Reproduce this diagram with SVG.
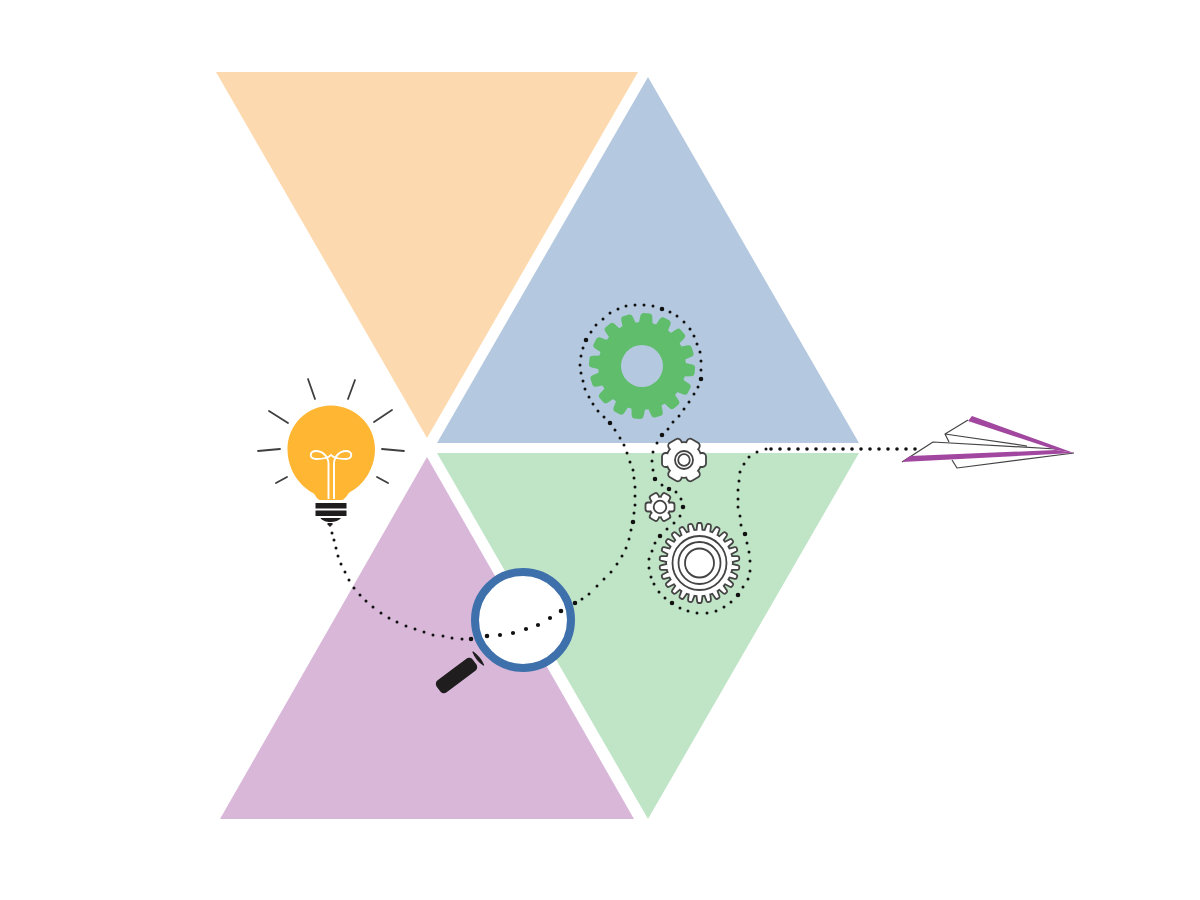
<svg xmlns="http://www.w3.org/2000/svg" width="1200" height="900" viewBox="0 0 1200 900">
<style>
.ray{stroke:#3f3f42;stroke-width:1.8;stroke-linecap:round;fill:none}
.dots{fill:none;stroke:#111;stroke-linecap:round}
.ring{fill:none;stroke:#444;stroke-width:1.8}
.tw{fill:#fff;stroke:#444;stroke-width:1.8}
.plane{fill:none;stroke:#444;stroke-width:1.2;stroke-linejoin:round}
.k{fill:#1f1d1e}
</style>
<defs>
<path id="tG" d="M-7 -41L-6 -50Q-5.500 -53 -3 -53H3Q5.500 -53 6 -50L7 -41Z" fill="#5fbd6c"/>
<path id="tL" d="M-3.200 -31L-2.300 -38.500Q-2 -40 -1 -40H1Q2 -40 2.300 -38.500L3.200 -31Z" class="tw"/>
<rect id="tM" x="-7" y="-22" width="14" height="8" rx="3.500" class="tw"/>
<rect id="tS" x="-4.500" y="-14.500" width="9" height="7" rx="2.500" class="tw"/>
</defs>
<rect width="1200" height="900" fill="#fff"/>
<g id="triangle-orange"><polygon points="216,72 638,72 427,438" fill="#fcd9ae"/></g>
<g id="triangle-blue"><polygon points="648,77 859,443 437,443" fill="#b4c9df"/></g>
<g id="triangle-green"><polygon points="437,453 859,453 648,819" fill="#c0e5c6"/></g>
<g id="triangle-purple"><polygon points="427,457 634,819 220,819" fill="#d8b7d9"/></g>

<g id="bulb">
<path class="ray" d="M308 379L315 399M355 380L348 399M269 411L288 423M392 410L374 422M258 451L280 449M382 449L404 451M276 483L287 477M377 477L388 483"/>
<path d="M313 493C298 485 287.500 468 287.500 449C287.500 425 307 405.500 331 405.500C355 405.500 375 425 375 449C375 468 364 485 350 492C347 494 346 499 342 500H320C316 499 316 495 313 493Z" fill="#ffb633"/>
<path d="M328.500 499V464C328.500 456 322 451 316 451C309 451 309 459 316 459C322 459 328.500 458 331 455C333.500 458 340 459 346 459C353 459 353 451 346 451C340 451 334 456 334 464V499" fill="none" stroke="#fff" stroke-width="1.900"/>
<rect class="k" x="315.500" y="503" width="31" height="5.500"/>
<rect class="k" x="315.500" y="510.500" width="31" height="5.500"/>
<path class="k" d="M320.500 518H341C339 520.500 335 522 330.500 522C326 522 322 520.500 320.500 518Z"/>
<path class="k" d="M327.500 523H332.500V524.500L330 527L327.500 524.500Z"/>
</g>

<g id="gear-green" transform="translate(642 366)">
<circle r="44" fill="#5fbd6c"/>
<use href="#tG" transform="rotate(5)"/><use href="#tG" transform="rotate(27.5)"/><use href="#tG" transform="rotate(50)"/><use href="#tG" transform="rotate(72.5)"/><use href="#tG" transform="rotate(95)"/><use href="#tG" transform="rotate(117.5)"/><use href="#tG" transform="rotate(140)"/><use href="#tG" transform="rotate(162.5)"/><use href="#tG" transform="rotate(185)"/><use href="#tG" transform="rotate(207.5)"/><use href="#tG" transform="rotate(230)"/><use href="#tG" transform="rotate(252.5)"/><use href="#tG" transform="rotate(275)"/><use href="#tG" transform="rotate(297.5)"/><use href="#tG" transform="rotate(320)"/><use href="#tG" transform="rotate(342.5)"/>
<circle r="21" fill="#b4c9df"/>
</g>

<g id="gear-medium" transform="translate(684 460)">
<circle r="18.700" fill="#444"/>
<use href="#tM" transform="rotate(30)"/><use href="#tM" transform="rotate(90)"/><use href="#tM" transform="rotate(150)"/><use href="#tM" transform="rotate(210)"/><use href="#tM" transform="rotate(270)"/><use href="#tM" transform="rotate(330)"/>
<circle r="16.900" fill="#fff"/>
<circle class="ring" r="9"/><circle class="ring" r="5.800"/>
</g>

<g id="gear-small" transform="translate(660 507)">
<circle r="11.300" fill="#444"/>
<use href="#tS" transform="rotate(30)"/><use href="#tS" transform="rotate(90)"/><use href="#tS" transform="rotate(150)"/><use href="#tS" transform="rotate(210)"/><use href="#tS" transform="rotate(270)"/><use href="#tS" transform="rotate(330)"/>
<circle r="9.500" fill="#fff"/>
<circle class="ring" r="6.300"/>
</g>

<g id="gear-large" transform="translate(699.500 563)">
<circle r="34.200" fill="#444"/>
<use href="#tL" transform="rotate(0)"/><use href="#tL" transform="rotate(13.85)"/><use href="#tL" transform="rotate(27.69)"/><use href="#tL" transform="rotate(41.54)"/><use href="#tL" transform="rotate(55.38)"/><use href="#tL" transform="rotate(69.23)"/><use href="#tL" transform="rotate(83.08)"/><use href="#tL" transform="rotate(96.92)"/><use href="#tL" transform="rotate(110.77)"/><use href="#tL" transform="rotate(124.62)"/><use href="#tL" transform="rotate(138.46)"/><use href="#tL" transform="rotate(152.31)"/><use href="#tL" transform="rotate(166.15)"/><use href="#tL" transform="rotate(180)"/><use href="#tL" transform="rotate(193.85)"/><use href="#tL" transform="rotate(207.69)"/><use href="#tL" transform="rotate(221.54)"/><use href="#tL" transform="rotate(235.38)"/><use href="#tL" transform="rotate(249.23)"/><use href="#tL" transform="rotate(263.08)"/><use href="#tL" transform="rotate(276.92)"/><use href="#tL" transform="rotate(290.77)"/><use href="#tL" transform="rotate(304.62)"/><use href="#tL" transform="rotate(318.46)"/><use href="#tL" transform="rotate(332.31)"/><use href="#tL" transform="rotate(346.15)"/>
<circle r="32.500" fill="#fff"/>
<circle class="ring" r="27"/><circle class="ring" r="21"/><circle class="ring" r="14.500"/>
</g>

<g id="magnifier">
<circle cx="523" cy="620" r="48" fill="#fff" stroke="#3e70ab" stroke-width="8"/>
<rect x="434" y="668" width="45" height="15" rx="4.500" transform="rotate(-37 456.500 675.500)" fill="#1f1d1e"/>
<path d="M473 652C475 657 479 662 483.500 665C481 659 477 655 473 652Z" fill="#1f1d1e" stroke="#1f1d1e" stroke-width="1.200" stroke-linejoin="round"/>
</g>

<g id="paper-plane">
<path class="plane" d="M902 462L933 442L1056 449M968 420L945 434L1027 446M945 434L949 442M952 460L957 468L1074 453"/>
<polygon points="972,416 1074,453 1056,450 968,421" fill="#a2479f"/>
<polygon points="902,462 1074,453 1056,450 910,456" fill="#a2479f"/>
</g>

<g id="connectors">
<path class="dots" stroke-width="3" d="M332 533h0M336 548h0M338 556h0M341 564h0M345 572h0M349 580h0M354 588h0M360 595h0M366 601h0M373 607h0M381 613h0M389 618h0M397 622h0M406 626h0M415 629h0M424 632h0M433 635h0M443 636h0M452 638h0M462 639h0M334 540h0M589 594h0M582 599h0M597 586h0M604 579h0M611 572h0M617 564h0M622 556h0M626 548h0M629 539h0M631 530h0M634 513h0M635 505h0M635 496h0M635 487h0M634 478h0M633 470h0M630 462h0M627 453h0M624 445h0M620 438h0M615 430h0M604 417h0M598 411h0M593 404h0M589 397h0M585 389h0M583 381h0M581 373h0M580 365h0M581 356h0M583 348h0M591 332h0M596 325h0M603 319h0M610 313h0M618 309h0M626 306h0M635 305h0M644 305h0M653 306h0M670 312h0M677 316h0M684 322h0M690 329h0M694 336h0M697 344h0M700 352h0M701 361h0M701 370h0M698 387h0M694 394h0M689 402h0M684 409h0M679 416h0M673 422h0M668 429h0M657 443h0M653 452h0M652 461h0M653 470h0M662 485h0M676 492h0M681 499h0M680 516h0M674 523h0M667 529h0M655 543h0M652 551h0M649 559h0M649 568h0M651 577h0M654 584h0M659 592h0M665 598h0M680 608h0M688 611h0M697 613h0M707 613h0M716 611h0M724 607h0M731 602h0M743 587h0M748 579h0M750 571h0M750 561h0M749 552h0M747 543h0M741 525h0M740 516h0M738 507h0M738 499h0M738 490h0M739 481h0M740 472h0M744 464h0M749 457h0M757 452h0M766 449h0"/>
<path class="dots" stroke-width="4.600" d="M471 639h0M487 636h0M561 611h0M575 603h0M633 522h0M610 423h0M586 340h0M662 309h0M701 379h0M662 435h0M655 479h0M669 489h0M683 507h0M660 536h0M672 603h0M738 595h0M745 534h0"/>
<path class="dots" stroke-width="4.200" d="M500 635h0M513 633h0M526 629h0M538 625h0M550 618h0"/>
<path class="dots" stroke-width="3.600" d="M771 449h0M780 449h0M789 449h0M798 449h0M807 449h0M816 449h0M825 449h0M834 449h0M843 449h0M852 449h0M861 449h0M870 449h0M879 449h0M888 449h0M897 449h0M906 449h0M915 449h0"/>
</g>
</svg>
